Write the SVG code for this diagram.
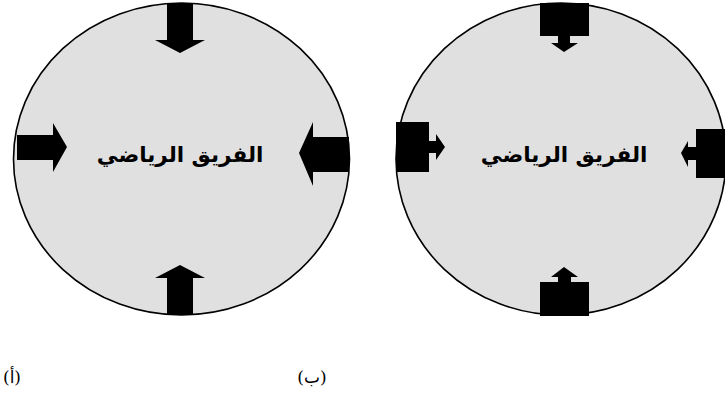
<svg xmlns="http://www.w3.org/2000/svg" width="725" height="394" viewBox="0 0 725 394">
  <style>
    .team { fill: #e0e0e0; stroke: #000; stroke-width: 1.6; }
    .arrow { fill: #000; stroke: none; }
    .name { font-family: "DejaVu Sans", sans-serif; font-weight: bold; font-size: 21.5px; fill: #000; text-anchor: middle; }
    .tag { font-family: "DejaVu Serif", "DejaVu Sans", serif; font-size: 17px; fill: #000; text-anchor: middle; }
  </style>

  <!-- (a) team with forces pressing in from outside -->
  <g id="team-a">
    <ellipse class="team" cx="181.5" cy="159" rx="168" ry="156"/>
    <text class="name" x="180" y="162" direction="rtl">الفريق الرياضي</text>
  </g>
  <g id="arrows-a">
    <polygon class="arrow" points="167,3 193,3 193,40 205,40 180,53 155,40 167,40"/>
    <polygon class="arrow" points="167,315 193,315 193,278 205,278 180,265 155,278 167,278"/>
    <polygon class="arrow" points="17,135 53,135 53,123 67,147 53,172 53,160 17,160"/>
    <polygon class="arrow" points="349,137 313,137 313,122 299,153 313,186 313,172 349,172"/>
  </g>

  <!-- (b) team with blocks at the rim and small arrows inward -->
  <g id="team-b">
    <ellipse class="team" cx="561" cy="159" rx="165" ry="156"/>
    <text class="name" x="564" y="162" direction="rtl">الفريق الرياضي</text>
  </g>
  <g id="arrows-b">
    <rect class="arrow" x="540" y="3" width="49" height="33"/>
    <polygon class="arrow" points="558,36 570,36 570,43 578,43 564,52 551,43 558,43"/>
    <rect class="arrow" x="540" y="282" width="49" height="34"/>
    <polygon class="arrow" points="558,282 571,282 571,277 578,277 564,267 551,277 558,277"/>
    <rect class="arrow" x="396" y="122" width="33" height="50"/>
    <polygon class="arrow" points="429,141 436,141 436,134 445,147 436,160 436,153 429,153"/>
    <rect class="arrow" x="696" y="129" width="30" height="49"/>
    <polygon class="arrow" points="696,147 688,147 688,141 681,153 688,167 688,160 696,160"/>
  </g>

  <!-- panel captions -->
  <text id="caption-a" class="tag" x="12" y="383">(أ)</text>
  <text id="caption-b" class="tag" x="312" y="383">(ب)</text>
</svg>
